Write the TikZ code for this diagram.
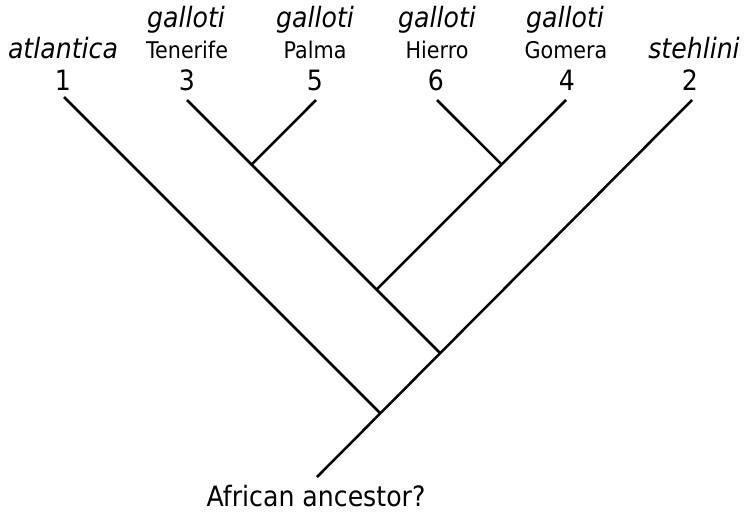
\documentclass[tikz,border=0pt]{standalone}
\usepackage{fontspec}
\setmainfont{DejaVu Sans}[FakeStretch=0.9]
\usetikzlibrary{calc}

\tikzset{
  branch/.style={line width=2.5pt, line cap=butt},
  species/.style={anchor=base, inner sep=0pt, font=\fontsize{28}{30}\selectfont\itshape},
  island/.style={anchor=base, inner sep=0pt, font=\fontsize{23}{25}\selectfont},
  tipnum/.style={anchor=base, inner sep=0pt, font=\fontsize{28}{30}\selectfont},
  caption/.style={anchor=base, inner sep=0pt, font=\fontsize{28}{30}\selectfont}
}

\begin{document}
\begin{tikzpicture}[x=1pt, y=-1pt]
\useasboundingbox (0,0) rectangle (744,512);

% tips of the tree and the root
\coordinate (root) at (317,477);
\coordinate (t1) at (64,97);
\coordinate (t3) at (187,100);
\coordinate (t5) at (316,100);
\coordinate (t6) at (437,100);
\coordinate (t4) at (566,100);
\coordinate (t2) at (692,100);

% directions of the side branches
\coordinate (t1d) at ($(t1)+(400,400)$);
\coordinate (t3d) at ($(t3)+(400,400)$);
\coordinate (t5d) at ($(t5)+(-200,200)$);
\coordinate (t4d) at ($(t4)+(-300,300)$);
\coordinate (t6d) at ($(t6)+(200,200)$);

% branching points
\coordinate (n1) at (intersection of root--t2 and t1--t1d);
\coordinate (n2) at (intersection of root--t2 and t3--t3d);
\coordinate (n35) at (intersection of t3--n2 and t5--t5d);
\coordinate (n4) at (intersection of t3--n2 and t4--t4d);
\coordinate (n46) at (intersection of t4--n4 and t6--t6d);

% branches
\draw[branch] (root) -- (t2);
\draw[branch] (t1) -- (n1);
\draw[branch] (t3) -- (n2);
\draw[branch] (t5) -- (n35);
\draw[branch] (t4) -- (n4);
\draw[branch] (t6) -- (n46);

% species names
\node[species] (sp1) at (63,58) {atlantica};
\node[species] (sp3) at (186,27) {galloti};
\node[species] (sp5) at (315,27) {galloti};
\node[species] (sp6) at (437,27) {galloti};
\node[species] (sp4) at (565,27) {galloti};
\node[species] (sp2) at (694,58) {stehlini};

% islands
\node[island] (is3) at (187,58) {Tenerife};
\node[island] (is5) at (315,58) {Palma};
\node[island] (is6) at (437,58) {Hierro};
\node[island] (is4) at (566,58) {Gomera};

% tip numbers
\node[tipnum] (n1l) at (63,90) {1};
\node[tipnum] (n3l) at (187,90) {3};
\node[tipnum] (n5l) at (315,90) {5};
\node[tipnum] (n6l) at (436,90) {6};
\node[tipnum] (n4l) at (567,90) {4};
\node[tipnum] (n2l) at (690,90) {2};

% ancestor
\node[caption] (anc) at (316,506) {African ancestor?};
\end{tikzpicture}
\end{document}
